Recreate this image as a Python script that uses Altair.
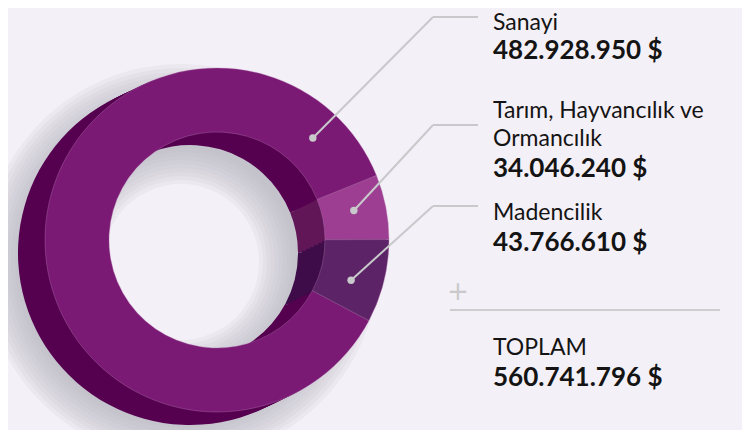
import math
import altair as alt
import pandas as pd

# ---------------- data ----------------
categories = ["Sanayi", "Tarım, Hayvancılık ve Ormancılık", "Madencilik"]
values = [482928950, 34046240, 43766610]
name_lines = [["Sanayi"], ["Tarım, Hayvancılık ve", "Ormancılık"], ["Madencilik"]]
total_title = "TOPLAM"
total_value = 560741796

# ---------------- styling / layout ----------------
ring_order = ["Tarım, Hayvancılık ve Ormancılık", "Madencilik", "Sanayi"]
front_colors = {"Sanayi": "#7b1a75", "Tarım, Hayvancılık ve Ormancılık": "#9d3e93", "Madencilik": "#5c2467"}
depth_colors = {"Sanayi": "#560050", "Tarım, Hayvancılık ve Ormancılık": "#611658", "Madencilik": "#3e0c48"}
anchor_frac = {"Sanayi": 0.92, "Tarım, Hayvancılık ve Ormancılık": 0.45, "Madencilik": 0.6}
label_top = {"Sanayi": 22, "Tarım, Hayvancılık ve Ormancılık": 110, "Madencilik": 212}  # first-line baseline
amount_y = {"Sanayi": 51, "Tarım, Hayvancılık ve Ormancılık": 169, "Madencilik": 243}
elbow_y = {"Sanayi": 9, "Tarım, Hayvancılık ve Ormancılık": 117, "Madencilik": 198}

W, H = 734, 422
BG = "#f4f0f7"
CX, CY = 209, 232
R_OUT, R_IN = 172, 108
START = math.radians(68)
DEPTH = (-27, 13)
TEXT_X = 485
ELBOW_X, END_X = 425, 470
GREY = "#c9c9cb"
FONT = "Lato"

total = sum(values)


def fmt(v):
    return f"{v:,}".replace(",", ".") + " $"


df = pd.DataFrame({"cat": categories, "value": values})
df["ord"] = df["cat"].map({c: i for i, c in enumerate(ring_order)})
df["front"] = df["cat"].map(front_colors)
df["depth"] = df["cat"].map(depth_colors)

theta = alt.Theta("value:Q", stack=True,
                  scale=alt.Scale(domain=[0, total], range=[START, START + 2 * math.pi]))
order = alt.Order("ord:Q")


def donut(dx, dy, color_field, **mark):
    return alt.Chart(df).mark_arc(radius=R_OUT, radius2=R_IN, **mark).encode(
        theta=theta, order=order,
        color=alt.Color(f"{color_field}:N", scale=None, legend=None),
        x=alt.value(CX + dx), y=alt.value(CY + dy),
    )


layers = []

# soft shadow (stack of translucent rings to fake a blur)
N = 10
for k in range(N):
    spread = (k - N / 2) * 4
    layers.append(
        alt.Chart(pd.DataFrame({"v": [total]})).mark_arc(
            theta=0, theta2=2 * math.pi,
            radius=R_OUT + 6 - spread, radius2=max(R_IN - 10 + spread, 0),
            color="#b4b2bc", opacity=0.12,
        ).encode(x=alt.value(CX - 36), y=alt.value(CY + 22))
    )

# extruded depth of the ring
steps = [1.0, 0.85, 0.7, 0.55, 0.4, 0.25, 0.1]
for t in steps:
    layers.append(donut(DEPTH[0] * t, DEPTH[1] * t, "depth"))

# front face
layers.append(donut(0, 0, "front", stroke="#b77ab0", strokeWidth=0.6, strokeOpacity=0.6))

# leader lines computed from the slice angles
cum = 0.0
starts = {}
for c in ring_order:
    starts[c] = cum
    cum += values[categories.index(c)]
seg_rows, dot_rows = [], []
for c in categories:
    v = values[categories.index(c)]
    a = START + 2 * math.pi * (starts[c] + anchor_frac[c] * v) / total
    rm = (R_OUT + R_IN) / 2
    px, py = CX + rm * math.sin(a), CY - rm * math.cos(a)
    dot_rows.append({"cat": c, "x": px, "y": py})
    seg_rows.append({"cat": c, "x": px, "y": py, "x2": ELBOW_X, "y2": elbow_y[c]})
    seg_rows.append({"cat": c, "x": ELBOW_X, "y": elbow_y[c], "x2": END_X, "y2": elbow_y[c]})
seg_df = pd.DataFrame(seg_rows)
dot_df = pd.DataFrame(dot_rows)

layers.append(alt.Chart(seg_df).mark_rule(color=GREY, strokeWidth=2).encode(
    x=alt.X("x:Q", scale=None), y=alt.Y("y:Q", scale=None),
    x2="x2:Q", y2="y2:Q"))
layers.append(alt.Chart(dot_df).mark_circle(color=GREY, opacity=1, size=55).encode(
    x=alt.X("x:Q", scale=None), y=alt.Y("y:Q", scale=None)))

# text block
LINE = 28
text_rows = []
for c, lines in zip(categories, name_lines):
    y = label_top[c]
    for ln in lines:
        text_rows.append({"t": ln, "y": y, "w": "normal", "s": 23})
        y += LINE
    text_rows.append({"t": fmt(values[categories.index(c)]), "y": amount_y[c], "w": "bold", "s": 26})
text_rows.append({"t": total_title, "y": 347, "w": "normal", "s": 23})
text_rows.append({"t": fmt(total_value), "y": 378, "w": "bold", "s": 26})
text_df = pd.DataFrame(text_rows)

for w in ["normal", "bold"]:
    sub = text_df[text_df.w == w]
    layers.append(alt.Chart(sub).mark_text(
        align="left", baseline="alphabetic", font=FONT, fontWeight=w,
        fontSize=int(sub.s.iloc[0]), color="#141414").encode(
        x=alt.value(TEXT_X), y=alt.Y("y:Q", scale=None), text="t:N"))

# plus sign and separator
layers.append(alt.Chart(pd.DataFrame({"t": ["+"]})).mark_text(
    align="center", baseline="middle", font="DejaVu Sans", fontSize=26,
    color=GREY).encode(x=alt.value(450), y=alt.value(284), text="t:N"))
layers.append(alt.Chart(pd.DataFrame({"a": [0]})).mark_rule(color="#cdcdd0", strokeWidth=2).encode(
    x=alt.value(442), x2=alt.value(712), y=alt.value(302)))

chart = alt.layer(*layers).properties(
    width=W, height=H, background=BG, padding=0, autosize="none"
).configure_view(stroke=None)

chart.save("out.html", embed_options={"renderer": "svg", "actions": False})
